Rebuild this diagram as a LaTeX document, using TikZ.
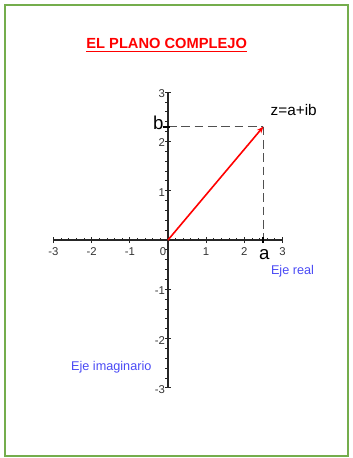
\documentclass[tikz,border=0pt]{standalone}
\usepackage{fontspec}
\setmainfont{Liberation Sans}
\usetikzlibrary{arrows.meta}
\definecolor{marco}{HTML}{74AD4C}
\definecolor{ejeazul}{HTML}{4A4AF5}
\definecolor{guion}{HTML}{505050}
\tikzset{
  eje/.style={draw=black!85, line width=0.8pt},
  marca/.style={draw=black!85, line width=0.6pt},
  numero/.style={inner sep=0pt, font=\fontsize{8.5}{9}\selectfont, text=black!80},
  rotulo/.style={inner sep=0pt, font=\fontsize{9.5}{11}\selectfont, text=ejeazul},
  guiones/.style={draw=guion, line width=0.9pt, dash pattern=on 6.5pt off 3.5pt}
}
\begin{document}
\begin{tikzpicture}[x=28.63pt, y=36.98pt]
      \useasboundingbox (-4.401,-4.422) rectangle (4.847,4.868);
      \draw[marco, line width=1.9pt] (-4.270,-4.381) rectangle (4.716,4.767);
      % titulo
      \node[inner sep=0pt, text=red, font=\fontsize{11}{13}\selectfont\bfseries]
        (titulo) at (-0.034,3.996) {EL PLANO COMPLEJO};
      \draw[red, line width=1.1pt] ([yshift=-2.2pt]titulo.south west) to ([yshift=-2.2pt]titulo.south east);
      % ejes
      \coordinate (xmin) at (-3,0);
      \coordinate (xmax) at (3,0);
      \coordinate (ymin) at (0,-3);
      \coordinate (ymax) at (0,3);
      \coordinate (O) at (0,0);
      \coordinate (z) at (2.5,2.3);
      \coordinate (za) at (2.5,0);
      \coordinate (zb) at (0,2.3);
      \draw[eje] (xmin) to (xmax);
      \draw[eje] (ymin) to (ymax);
      \foreach \k in {-3,-2.8,...,2.9}
        \draw[marca] (\k,0) -- (\k,0.05);
      \foreach \k in {-3,-2.8,...,2.9}
        \draw[marca] (0,\k) -- (-0.065,\k);
      \foreach \k in {-3,-2,-1,1,2,3} {
        \draw[marca] (\k,-0.061) -- (\k,0.061);
        \draw[marca] (-0.079,\k) -- (0.079,\k);
        \node[numero, anchor=north] (xl\k) at (\k,-0.15) {\k};
        \node[numero, anchor=east] (yl\k) at (-0.07,\k-0.03) {\k};
      }
      \node[numero] (cero) at (-0.13,-0.235) {0};
      % punto z
      \draw[guiones] (zb) to (z);
      \draw[guiones] (z) to (za);
      \draw[black, line width=1.6pt] ([xshift=-0.13cm]zb) to ([xshift=0.05cm]zb);
      \draw[black, line width=1.6pt] ([yshift=-0.08cm]za) to ([yshift=0.08cm]za);
      \draw[red, line width=1.2pt, -{Stealth[length=5pt, width=4pt]}] (O) to (z);
      \node[inner sep=0pt, font=\fontsize{11.5}{13}\selectfont] (zlab) at (3.295,2.637) {z=a+ib};
      \node[inner sep=0pt, font=\fontsize{14}{15}\selectfont] (blab) at (-0.254,2.383) {b};
      \node[inner sep=0pt, font=\fontsize{14}{15}\selectfont] (alab) at (2.524,-0.304) {a};
      % rotulos
      \node[rotulo] (real) at (3.262,-0.629) {Eje real};
      \node[rotulo] (imag) at (-1.485,-2.576) {Eje imaginario};
    \end{tikzpicture}
\end{document}
